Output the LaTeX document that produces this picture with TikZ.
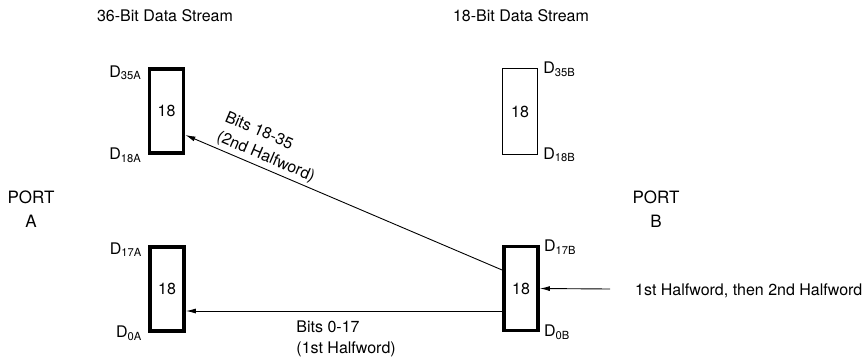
\documentclass[tikz,border=0pt]{standalone}
\usepackage{fontspec}
\setmainfont{TeX Gyre Heros}
\usetikzlibrary{arrows.meta,calc}

\begin{document}
\begin{tikzpicture}[x=1pt,y=-1pt,font=\fontsize{16}{19}\selectfont,
  regbox/.style={draw,line width=3.8pt,minimum width=34pt,minimum height=84pt,inner sep=0pt},
  thinbox/.style={regbox,line width=1.4pt,minimum width=35pt,minimum height=86pt},
  conn/.style={-{Latex[length=10pt,width=5pt]},line width=0.9pt},
  lbl/.style={inner sep=1pt},
  twoline/.style={lbl,align=left,font=\fontsize{16}{21}\selectfont}]
\useasboundingbox (0,0) rectangle (868,360);

% Stream headings
\node[lbl,anchor=base] (h36) at (165,21) {36-Bit Data Stream};
\node[lbl,anchor=base] (h18) at (521,21) {18-Bit Data Stream};

% Port names
\node[lbl,align=center,font=\fontsize{17}{24}\selectfont] (porta) at (31,209) {PORT\\A};
\node[lbl,align=center,font=\fontsize{17}{24}\selectfont] (portb) at (656,209) {PORT\\B};

% Port A registers
\node[regbox] (ahi) at (166.5,111) {18};
\node[regbox] (alo) at (167,289) {18};
\node[lbl,anchor=base east] (d35a) at ($(ahi.north west)+(-5,10)$) {D\textsubscript{35A}};
\node[lbl,anchor=base east] (d18a) at ($(ahi.south west)+(-5,5)$) {D\textsubscript{18A}};
\node[lbl,anchor=base east] (d17a) at ($(alo.north west)+(-5,9)$) {D\textsubscript{17A}};
\node[lbl,anchor=base east] (d0a) at ($(alo.south west)+(-5,5)$) {D\textsubscript{0A}};

% Port B registers
\node[thinbox] (bhi) at (520,111.5) {18};
\node[regbox] (blo) at (521,288.5) {18};
\node[lbl,anchor=base west] (d35b) at ($(bhi.north east)+(4,6)$) {D\textsubscript{35B}};
\node[lbl,anchor=base west] (d18b) at ($(bhi.south east)+(4,4)$) {D\textsubscript{18B}};
\node[lbl,anchor=base west] (d17b) at ($(blo.north east)+(3,7)$) {D\textsubscript{17B}};
\node[lbl,anchor=base west] (d0b) at ($(blo.south east)+(3,4)$) {D\textsubscript{0B}};

% Transfers
\draw[conn] ($(blo.west)+(0,-18.5)$) -- ($(ahi.east)+(0,24)$)
  node[twoline,pos=0.76,sloped,above,inner sep=3pt] (bits2) {Bits 18-35\\(2nd Halfword)};
\draw[conn] ($(blo.west)+(0,22.5)$) -- ($(alo.east)+(0,22)$)
  node[twoline,pos=0.655,anchor=north west,yshift=-8pt] (bits1) {Bits 0-17\\(1st Halfword)};

% Incoming data
\coordinate (src) at (610,289);
\draw[conn] (src) -- (blo.east);
\node[lbl,anchor=base west] (feed) at (634,295) {1st Halfword, then 2nd Halfword};
\end{tikzpicture}
\end{document}
